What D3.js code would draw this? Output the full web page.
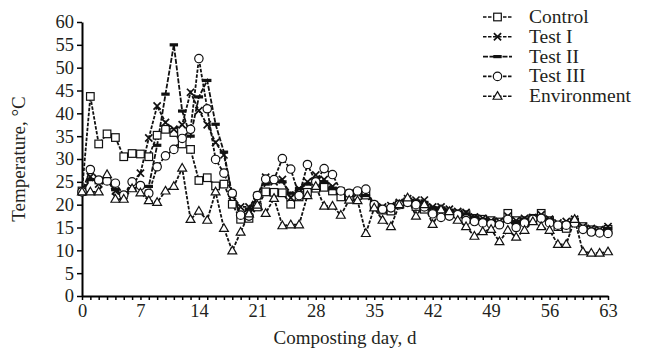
<!DOCTYPE html>
<html>
<head>
<meta charset="utf-8">
<script src="https://cdn.jsdelivr.net/npm/d3@7"></script>
<style>
  body { margin: 0; background: #fff; }
  svg text { font-family: "Liberation Serif", "Times New Roman", serif !important; fill: #231f20; }
</style>
</head>
<body>
<script>
// composting temperature, one value per day 0..63
const days = d3.range(0, 64);
const xTicks = [0, 7, 14, 21, 28, 35, 42, 49, 56, 63];
const yTicks = [0, 5, 10, 15, 20, 25, 30, 35, 40, 45, 50, 55, 60];

const control = [23, 43.7, 33.3, 35.5, 34.7, 30.5, 31.2, 31.1, 30.5, 35.2,
  36.5, 35.8, 33.3, 32.1, 25.3, 25.9, 24.1, 24.5, 20.1, 16.8,
  17, 19.5, 22.8, 22.7, 22.6, 20.1, 21.7, 22.7, 23.6, 23.8,
  23, 21.7, 21.7, 22, 22.1, 19.6, 18.8, 18.6, 20, 20.6,
  19.6, 19, 18.5, 18.3, 18, 18, 17.8, 17, 16.8, 16.5,
  16.2, 18.1, 16.5, 16.5, 17, 18.1, 16.5, 15.2, 14.8, 16.2,
  15.2, 14.5, 14.3, 14.6];
const testI = [22.8, 26.1, 24.5, 25.5, 23, 22, 24, 26.9, 34.6, 41.6,
  38, 36.5, 37.5, 44.6, 40.6, 37.5, 33.6, 30.9, 22, 19.5,
  19.5, 22, 26, 25, 25.5, 21.5, 23.5, 25, 26.5, 25.5,
  24, 23, 22.5, 22.5, 22.5, 20, 19.5, 19.8, 20.5, 21.3,
  21, 21, 19.5, 19.5, 19, 18.5, 18.3, 17.3, 17, 16.5,
  16.3, 17.5, 16.5, 17, 17.2, 17.8, 16.8, 16, 16.3, 16.8,
  15.2, 14.8, 14.5, 15.2];
const testII = [22.8, 25.5, 24.8, 25.2, 23.3, 22, 23.5, 24, 24, 33,
  44.2, 55, 40.5, 35, 43.6, 47.2, 37.6, 31.5, 22, 18,
  19, 21.5, 24.5, 25, 25, 22.5, 23.5, 24.5, 25.5, 25,
  23.5, 23, 22.5, 22.5, 22, 20, 19.3, 19.5, 20.3, 21,
  20.8, 20.5, 19.3, 19.3, 18.8, 18.3, 18, 17.3, 16.8, 16.5,
  16, 17, 16.3, 16.8, 17.3, 17.5, 16.8, 15.8, 16, 16.5,
  15, 14.6, 14.3, 14.8];
const testIII = [22.8, 27.7, 25.4, 25.2, 24.7, 22.1, 25, 24.2, 22.5, 28.3,
  30.7, 32.1, 34.5, 36.5, 52, 41, 29.9, 26.9, 22.5, 17.7,
  17.5, 22, 25.6, 25.5, 30.1, 27.8, 22, 28.8, 25, 27.9,
  26.6, 23, 22.5, 23, 23.4, 20, 19, 19.3, 20, 20.5,
  20, 19.5, 18, 17.2, 17.5, 17.8, 16.5, 16.3, 16, 15.8,
  15.6, 16.8, 15, 16, 16.8, 17, 16, 15.5, 15.5, 16,
  14.6, 14, 13.8, 13.7];
const environment = [22.8, 22.8, 22.8, 26.6, 21.2, 21.2, 23.5, 22.6, 20.9, 20.5,
  23, 24, 28, 16.8, 18.6, 16.6, 22.8, 14.8, 9.9, 14,
  18, 19.9, 18.1, 21.4, 15.4, 15.6, 15.6, 22, 24, 19.7,
  19.7, 17.7, 21, 20.9, 13.7, 19.3, 16.6, 15.2, 20, 21.5,
  17.5, 20, 15.7, 18.9, 18.5, 16.6, 15.2, 13.1, 14.1, 14.6,
  11.9, 14.4, 12.9, 14.4, 16.3, 15.2, 14.4, 11.3, 11.3, 16.8,
  9.7, 9.4, 9.4, 9.7];

const seriesNames = ['Control', 'Test I', 'Test II', 'Test III', 'Environment'];
const seriesValues = [control, testI, testII, testIII, environment];
const seriesMarks = ['square', 'cross', 'bar', 'circle', 'triangle'];

const width = 649, height = 355;
const margin = { top: 22, right: 41, bottom: 59, left: 82 };
const serif = '"Liberation Serif", "Times New Roman", serif';

const svg = d3.select('body').append('svg')
  .attr('width', width)
  .attr('height', height);

const x = d3.scaleLinear().domain([0, 63]).range([margin.left, width - margin.right]);
const y = d3.scaleLinear().domain([0, 60]).range([height - margin.bottom, margin.top]);

// axes
const xAxis = svg.append('g')
  .attr('transform', 'translate(0,' + (height - margin.bottom) + ')')
  .call(d3.axisBottom(x).tickValues(days).tickSize(4).tickSizeOuter(0)
    .tickFormat(d => xTicks.includes(d) ? d : ''));
const yAxis = svg.append('g')
  .attr('transform', 'translate(' + margin.left + ',0)')
  .call(d3.axisLeft(y).tickValues(yTicks).tickSize(5).tickSizeOuter(0));

[xAxis, yAxis].forEach(g => {
  g.attr('font-family', serif).attr('font-size', 18.5);
  g.select('.domain').attr('stroke', '#000').attr('stroke-width', 2);
  g.selectAll('.tick line').attr('stroke', '#000').attr('stroke-width', 1.5);
  g.selectAll('.tick text').attr('fill', '#231f20');
});
xAxis.selectAll('.tick text').attr('dy', '0.8em').attr('y', 6);
yAxis.selectAll('.tick text').attr('x', -8);

svg.append('text')
  .attr('x', x(31.5)).attr('y', 344)
  .attr('text-anchor', 'middle')
  .attr('font-family', serif).attr('font-size', 19)
  .text('Composting day, d');

svg.append('text')
  .attr('transform', 'translate(25,' + y(30) + ') rotate(-90)')
  .attr('text-anchor', 'middle')
  .attr('font-family', serif).attr('font-size', 19)
  .text('Temperature, °C');

// markers
function drawMark(g, kind, cx, cy) {
  if (kind === 'square') {
    g.append('rect').attr('x', cx - 3.8).attr('y', cy - 3.8).attr('width', 7.6).attr('height', 7.6)
      .attr('fill', '#fff').attr('stroke', '#111').attr('stroke-width', 1.2);
  } else if (kind === 'circle') {
    g.append('circle').attr('cx', cx).attr('cy', cy).attr('r', 4.2)
      .attr('fill', '#fff').attr('stroke', '#111').attr('stroke-width', 1.2);
  } else if (kind === 'triangle') {
    g.append('path').attr('d', d3.symbol(d3.symbolTriangle, 34)())
      .attr('transform', 'translate(' + cx + ',' + (cy + 0.5) + ')')
      .attr('fill', '#fff').attr('stroke', '#111').attr('stroke-width', 1.2);
  } else if (kind === 'cross') {
    g.append('path').attr('d', 'M-3.6,-3.6L3.6,3.6M-3.6,3.6L3.6,-3.6')
      .attr('transform', 'translate(' + cx + ',' + cy + ')')
      .attr('stroke', '#111').attr('stroke-width', 1.7);
  } else if (kind === 'bar') {
    g.append('rect').attr('x', cx - 4.2).attr('y', cy - 1.6).attr('width', 8.4).attr('height', 3.2)
      .attr('fill', '#111');
  }
}

const line = d3.line().x((d, i) => x(days[i])).y(d => y(d));

const plot = svg.append('g');
seriesValues.forEach((vals, k) => {
  plot.append('path')
    .datum(vals)
    .attr('d', line)
    .attr('fill', 'none')
    .attr('stroke', '#111')
    .attr('stroke-width', 1.8)
    .attr('stroke-dasharray', seriesMarks[k] === 'bar' ? '5,1.5' : '3.5,1.5');
});
seriesValues.forEach((vals, k) => {
  const g = plot.append('g');
  vals.forEach((v, i) => drawMark(g, seriesMarks[k], x(days[i]), y(v)));
});

// legend
const legend = svg.append('g');
seriesNames.forEach((name, k) => {
  const ly = 17 + k * 19.8;
  legend.append('line')
    .attr('x1', 483).attr('x2', 512).attr('y1', ly).attr('y2', ly)
    .attr('stroke', '#111').attr('stroke-width', 1.6)
    .attr('stroke-dasharray', seriesMarks[k] === 'bar' ? '5,1.5' : '3.5,1.5');
  drawMark(legend, seriesMarks[k], 497.5, ly);
  legend.append('text')
    .attr('x', 529).attr('y', ly + 6)
    .attr('font-family', serif).attr('font-size', 19.5)
    .text(name);
});
</script>
</body>
</html>
